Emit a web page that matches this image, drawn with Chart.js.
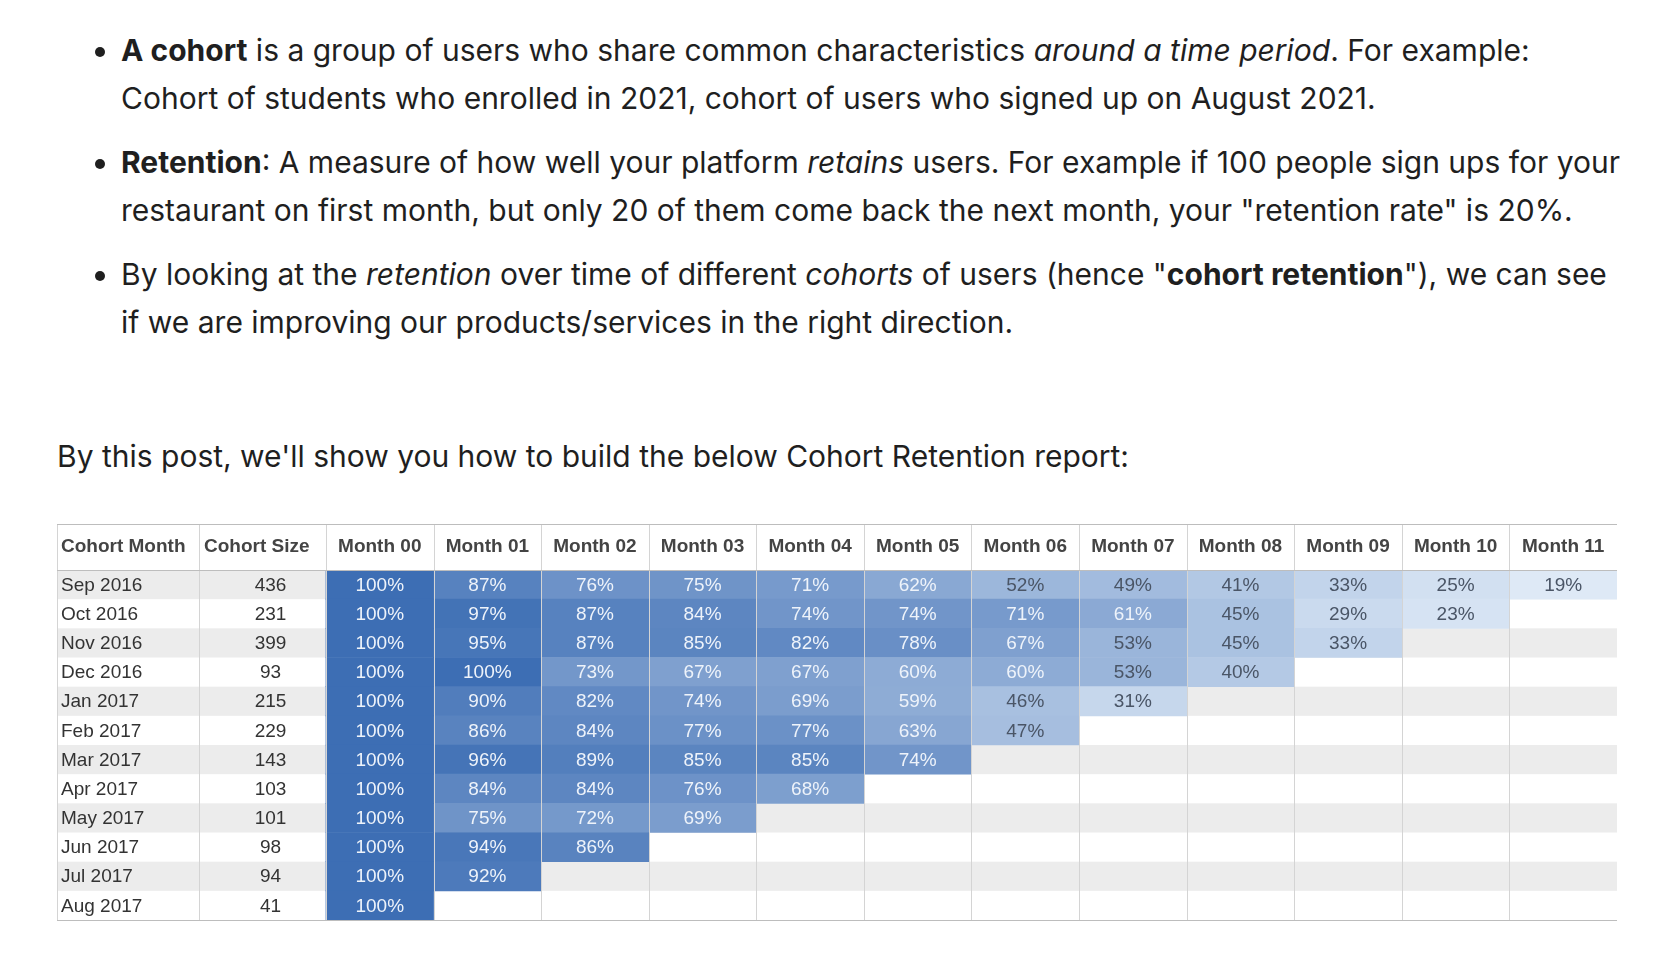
<!DOCTYPE html>
<html>
<head>
<meta charset="utf-8">
<script src="https://cdn.jsdelivr.net/npm/chart.js@4"></script>
<style>
  body { margin: 0; background: #fff; font-family: Inter, "Noto Sans", sans-serif; color: #1f1f1f; }
  ul { margin: 0; padding: 0 0 0 121px; position: absolute; top: 26px; width: 1500px; }
  li { font-size: 30px; line-height: 48px; margin-bottom: 16px; }
  p { position: absolute; left: 57px; top: 438px; margin: 0; font-size: 30px; }
  #wrap { position: absolute; left: 57px; top: 522px; width: 1560px; height: 400px; }
</style>
</head>
<body>
<ul>
  <li><b>A cohort</b> is a group of users who share common characteristics <i>around a time period</i>. For example: Cohort of students who enrolled in 2021, cohort of users who signed up on August 2021.</li>
  <li><b>Retention</b>: A measure of how well your platform <i>retains</i> users. For example if 100 people sign ups for your restaurant on first month, but only 20 of them come back the next month, your "retention rate" is 20%.</li>
  <li>By looking at the <i>retention</i> over time of different <i>cohorts</i> of users (hence "<b>cohort retention</b>"), we can see if we are improving our products/services in the right direction.</li>
</ul>
<p>By this post, we'll show you how to build the below Cohort Retention report:</p>
<div id="wrap"><canvas id="cohort"></canvas></div>
<script>
// Table data
const cohorts = ["Sep 2016", "Oct 2016", "Nov 2016", "Dec 2016", "Jan 2017", "Feb 2017",
  "Mar 2017", "Apr 2017", "May 2017", "Jun 2017", "Jul 2017", "Aug 2017"];
const cohortSizes = [436, 231, 399, 93, 215, 229, 143, 103, 101, 98, 94, 41];
const months = ["Month 00", "Month 01", "Month 02", "Month 03", "Month 04", "Month 05",
  "Month 06", "Month 07", "Month 08", "Month 09", "Month 10", "Month 11"];
const retention = [
  [100, 87, 76, 75, 71, 62, 52, 49, 41, 33, 25, 19],
  [100, 97, 87, 84, 74, 74, 71, 61, 45, 29, 23],
  [100, 95, 87, 85, 82, 78, 67, 53, 45, 33],
  [100, 100, 73, 67, 67, 60, 60, 53, 40],
  [100, 90, 82, 74, 69, 59, 46, 31],
  [100, 86, 84, 77, 77, 63, 47],
  [100, 96, 89, 85, 85, 74],
  [100, 84, 84, 76, 68],
  [100, 75, 72, 69],
  [100, 94, 86],
  [100, 92],
  [100]
];

// column edges in x units (month columns are 1 unit each)
const colMonthStart = -2.5, colSizeStart = -1.18;

function cellColor(v) {
  const t = Math.max(0, Math.min(1, (v - 19) / 81));
  const a = [222, 233, 246], b = [61, 110, 180];
  const c = a.map((x, i) => Math.round(x + (b[i] - x) * t));
  return `rgb(${c[0]},${c[1]},${c[2]})`;
}

const datasets = months.map((m, j) => ({
  label: m,
  data: retention.map(r => r[j] === undefined ? null : [j, j + 1]),
  backgroundColor: retention.map(r => r[j] === undefined ? "transparent" : cellColor(r[j])),
  borderWidth: 0,
  grouped: false,
  barPercentage: 1,
  categoryPercentage: 1
}));

const tablePlugin = {
  id: "table",
  beforeDatasetsDraw(chart) {
    const { ctx, chartArea: ca, scales: { y } } = chart;
    const rowH = y.getPixelForValue(1) - y.getPixelForValue(0);
    ctx.save();
    cohorts.forEach((c, i) => {
      if (i % 2 === 0) {
        ctx.fillStyle = "#ececec";
        ctx.fillRect(ca.left, y.getPixelForValue(i) - rowH / 2, ca.width, rowH);
      }
    });
    ctx.restore();
  },
  afterDatasetsDraw(chart) {
    const { ctx, chartArea: ca, scales: { x, y } } = chart;
    const top = ca.top - 46;
    ctx.save();
    // grid lines
    ctx.strokeStyle = "#d4d4d4";
    ctx.lineWidth = 1;
    const edges = [colMonthStart, colSizeStart].concat(months.map((m, j) => j)).concat([12]);
    edges.forEach(e => {
      const px = Math.round(x.getPixelForValue(e)) + 0.5;
      ctx.beginPath(); ctx.moveTo(px, top); ctx.lineTo(px, ca.bottom); ctx.stroke();
    });
    ctx.strokeStyle = "#bdbdbd";
    [top, ca.top, ca.bottom].forEach(py => {
      ctx.beginPath(); ctx.moveTo(ca.left, Math.round(py) + 0.5); ctx.lineTo(ca.right, Math.round(py) + 0.5); ctx.stroke();
    });
    // header
    ctx.font = "bold 19px 'Liberation Sans', Arial";
    ctx.fillStyle = "#444";
    ctx.textBaseline = "middle";
    const hy = top + 23;
    ctx.textAlign = "left";
    ctx.fillText("Cohort Month", x.getPixelForValue(colMonthStart) + 4, hy);
    ctx.fillText("Cohort Size", x.getPixelForValue(colSizeStart) + 5, hy);
    ctx.textAlign = "center";
    months.forEach((m, j) => ctx.fillText(m, x.getPixelForValue(j + 0.5), hy));
    // body
    ctx.font = "19px 'Liberation Sans', Arial";
    cohorts.forEach((c, i) => {
      const py = y.getPixelForValue(i) + 1;
      ctx.fillStyle = "#333";
      ctx.textAlign = "left";
      ctx.fillText(c, x.getPixelForValue(colMonthStart) + 4, py);
      ctx.textAlign = "center";
      ctx.fillText(String(cohortSizes[i]), x.getPixelForValue(colSizeStart / 2) + 8, py);
      retention[i].forEach((v, j) => {
        ctx.fillStyle = v >= 55 ? "#eef3fa" : "#4a5566";
        ctx.fillText(v + "%", x.getPixelForValue(j + 0.5), py);
      });
    });
    ctx.restore();
  }
};

new Chart(document.getElementById("cohort").getContext("2d"), {
  type: "bar",
  data: { labels: cohorts, datasets: datasets },
  options: {
    indexAxis: "y",
    responsive: true,
    maintainAspectRatio: false,
    animation: false,
    layout: { padding: { top: 48, bottom: 2, left: 0, right: 0 } },
    plugins: { legend: { display: false }, tooltip: { enabled: false } },
    scales: {
      x: { type: "linear", min: colMonthStart, max: 12, display: false },
      y: { type: "category", display: false, grid: { display: false } }
    }
  },
  plugins: [tablePlugin]
});
</script>
</body>
</html>
